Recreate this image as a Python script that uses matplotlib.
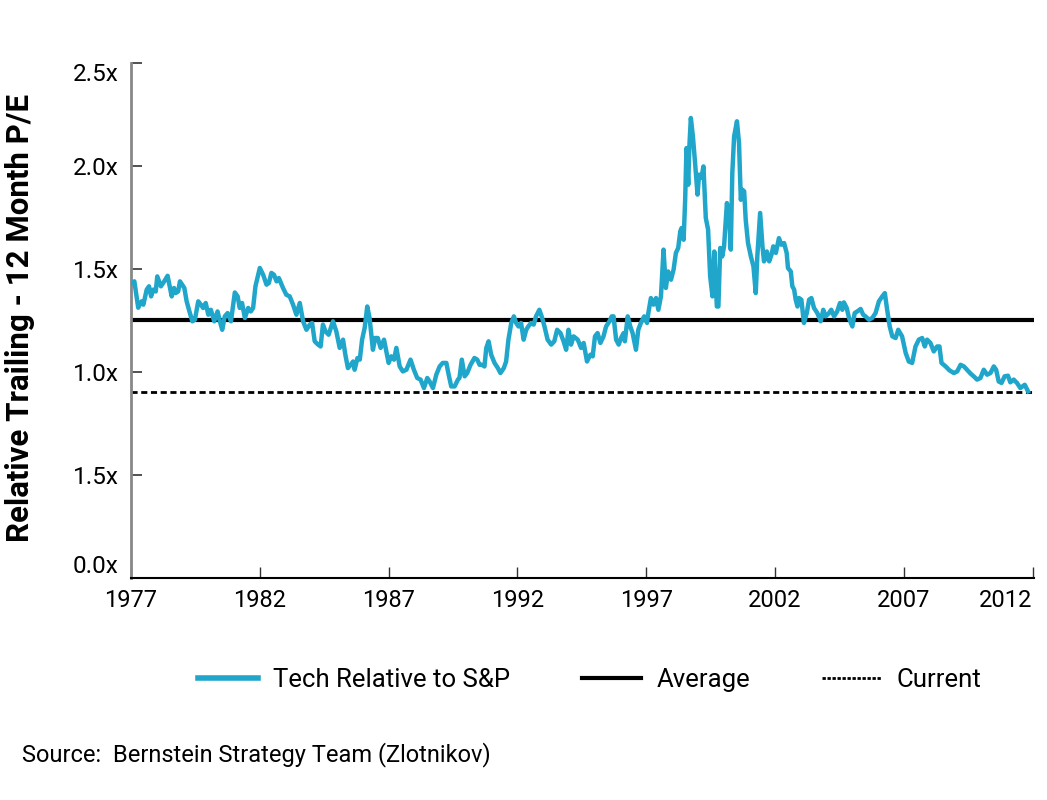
import matplotlib
matplotlib.use("Agg")
import matplotlib.pyplot as plt
from matplotlib.lines import Line2D

plt.rcParams['font.family'] = ['Roboto', 'DejaVu Sans']

years = [
 1977.04,1977.13,1977.28,1977.41,1977.48,1977.61,1977.70,1977.78,1977.86,1977.96,
 1978.02,1978.16,1978.29,1978.42,1978.58,1978.67,1978.73,1978.83,1978.90,1979.07,
 1979.16,1979.25,1979.38,1979.48,1979.61,1979.71,1979.80,1979.90,1980.00,1980.10,
 1980.23,1980.36,1980.45,1980.54,1980.64,1980.75,1980.88,1981.03,1981.14,1981.22,
 1981.31,1981.42,1981.55,1981.65,1981.74,1981.83,1982.00,1982.13,1982.26,1982.35,
 1982.45,1982.55,1982.65,1982.74,1982.90,1983.03,1983.16,1983.29,1983.42,1983.55,
 1983.68,1983.81,1983.94,1984.03,1984.13,1984.26,1984.36,1984.45,1984.55,1984.67,
 1984.84,1984.97,1985.10,1985.23,1985.32,1985.42,1985.53,1985.62,1985.68,1985.79,
 1985.88,1985.97,1986.07,1986.17,1986.26,1986.39,1986.48,1986.58,1986.69,1986.82,
 1986.91,1987.00,1987.10,1987.21,1987.30,1987.43,1987.55,1987.69,1987.85,1987.98,
 1988.11,1988.24,1988.37,1988.50,1988.59,1988.72,1988.85,1988.98,1989.10,1989.24,
 1989.33,1989.43,1989.56,1989.69,1989.75,1989.84,1989.95,1990.05,1990.18,1990.33,
 1990.44,1990.53,1990.62,1990.72,1990.79,1990.88,1990.98,1991.11,1991.24,1991.34,
 1991.47,1991.56,1991.65,1991.76,1991.86,1991.95,1992.04,1992.14,1992.24,1992.34,
 1992.42,1992.53,1992.63,1992.72,1992.85,1992.94,1993.05,1993.17,1993.31,1993.43,
 1993.54,1993.67,1993.79,1993.89,1993.98,1994.08,1994.18,1994.34,1994.47,1994.57,
 1994.70,1994.83,1994.92,1995.01,1995.11,1995.22,1995.34,1995.44,1995.57,1995.66,
 1995.73,1995.83,1995.93,1996.02,1996.12,1996.17,1996.28,1996.38,1996.47,1996.60,
 1996.69,1996.79,1996.92,1997.03,1997.08,1997.18,1997.28,1997.38,1997.47,1997.57,
 1997.67,1997.76,1997.85,1997.96,1998.06,1998.15,1998.24,1998.32,1998.37,1998.45,
 1998.51,1998.56,1998.63,1998.67,1998.73,1998.81,1998.89,1998.99,1999.05,1999.14,
 1999.22,1999.31,1999.40,1999.48,1999.57,1999.64,1999.74,1999.80,1999.87,1999.95,
 2000.02,2000.13,2000.22,2000.28,2000.34,2000.41,2000.52,2000.60,2000.67,2000.73,
 2000.80,2000.86,2000.95,2001.06,2001.16,2001.25,2001.31,2001.42,2001.51,2001.57,
 2001.68,2001.77,2001.86,2001.93,2002.03,2002.15,2002.24,2002.35,2002.45,2002.50,
 2002.61,2002.67,2002.74,2002.80,2002.87,2002.93,2003.02,2003.12,2003.23,2003.32,
 2003.41,2003.51,2003.64,2003.77,2003.87,2003.96,2004.09,2004.18,2004.29,2004.41,
 2004.52,2004.61,2004.67,2004.78,2004.87,2005.00,2005.09,2005.19,2005.32,2005.42,
 2005.51,2005.64,2005.77,2005.90,2006.03,2006.16,2006.26,2006.35,2006.45,2006.55,
 2006.68,2006.78,2006.93,2007.07,2007.19,2007.32,2007.45,2007.58,2007.71,2007.81,
 2007.90,2008.03,2008.16,2008.29,2008.38,2008.46,2008.62,2008.77,2008.94,2009.07,
 2009.20,2009.33,2009.45,2009.59,2009.71,2009.84,2009.97,2010.10,2010.23,2010.36,
 2010.49,2010.58,2010.68,2010.79,2010.91,2011.04,2011.13,2011.26,2011.39,2011.52,
 2011.69,2011.82,
]

tech_rel_pe = [
 1.433,1.440,1.312,1.343,1.327,1.400,1.416,1.367,1.400,1.391,
 1.464,1.416,1.440,1.467,1.367,1.408,1.383,1.391,1.440,1.408,
 1.343,1.302,1.246,1.254,1.343,1.327,1.311,1.335,1.278,1.302,
 1.246,1.294,1.246,1.205,1.270,1.286,1.246,1.386,1.367,1.311,
 1.335,1.262,1.311,1.294,1.311,1.416,1.505,1.472,1.424,1.432,
 1.481,1.472,1.440,1.456,1.408,1.375,1.367,1.327,1.278,1.335,
 1.246,1.205,1.230,1.238,1.149,1.133,1.124,1.230,1.197,1.181,
 1.246,1.197,1.117,1.157,1.084,1.019,1.035,1.051,1.011,1.068,
 1.060,1.157,1.214,1.318,1.262,1.108,1.165,1.165,1.117,1.157,
 1.100,1.044,1.076,1.060,1.117,1.027,1.003,1.011,1.060,1.011,
 0.971,0.963,0.922,0.971,0.954,0.922,0.987,1.027,1.044,1.044,
 0.987,0.930,0.930,0.963,0.971,1.060,0.979,0.995,1.035,1.068,
 1.060,1.035,1.035,1.027,1.117,1.149,1.084,1.044,1.019,0.995,
 1.019,1.051,1.157,1.238,1.270,1.238,1.221,1.238,1.157,1.205,
 1.221,1.238,1.230,1.270,1.302,1.270,1.221,1.157,1.133,1.149,
 1.205,1.189,1.149,1.108,1.205,1.133,1.173,1.157,1.117,1.141,
 1.051,1.084,1.076,1.173,1.189,1.141,1.173,1.221,1.246,1.270,
 1.270,1.157,1.133,1.165,1.189,1.149,1.270,1.221,1.189,1.108,
 1.205,1.238,1.270,1.238,1.286,1.359,1.327,1.359,1.302,1.367,
 1.594,1.408,1.488,1.448,1.497,1.578,1.602,1.683,1.699,1.642,
 1.836,2.087,1.909,2.087,2.233,2.144,2.022,1.861,1.958,1.942,
 1.998,1.748,1.691,1.464,1.367,1.585,1.318,1.318,1.602,1.561,
 1.610,1.820,1.755,1.594,1.966,2.144,2.217,2.112,1.836,1.885,
 1.877,1.739,1.626,1.561,1.513,1.383,1.561,1.772,1.610,1.537,
 1.585,1.537,1.569,1.610,1.578,1.650,1.618,1.626,1.578,1.505,
 1.488,1.416,1.400,1.351,1.318,1.359,1.351,1.238,1.286,1.351,
 1.359,1.311,1.286,1.246,1.302,1.270,1.286,1.302,1.270,1.294,
 1.335,1.302,1.338,1.311,1.262,1.221,1.286,1.294,1.306,1.278,
 1.270,1.254,1.262,1.286,1.343,1.367,1.383,1.302,1.221,1.173,
 1.165,1.205,1.173,1.092,1.051,1.044,1.124,1.157,1.165,1.124,
 1.157,1.141,1.100,1.124,1.124,1.044,1.027,1.008,0.995,1.003,
 1.035,1.027,1.011,0.992,0.979,0.963,0.971,1.011,0.987,0.995,
 1.027,1.011,0.954,0.947,0.979,0.982,0.950,0.963,0.947,0.922,
 0.938,0.906,
]

average_value = 1.254
current_value = 0.905

x_ticks = [1977, 1982, 1987, 1992, 1997, 2002, 2007, 2012]
y_ticks = [0.0, 0.5, 1.0, 1.5, 2.0, 2.5]
y_tick_labels = ["0.0x", "1.5x", "1.0x", "1.5x", "2.0x", "2.5x"]

series_label = "Tech Relative to S&P"
avg_label = "Average"
cur_label = "Current"
y_title = "Relative Trailing - 12 Month P/E"
source_text = "Source:  Bernstein Strategy Team (Zlotnikov)"

BLUE = "#20A6CA"

fig = plt.figure(figsize=(10.47, 8.0), dpi=100)
ax = fig.add_axes([131/1047, 1 - 578/800, (1034-131)/1047, (578-63)/800])

ax.plot(years, tech_rel_pe, color=BLUE, lw=3.2, solid_joinstyle='round', zorder=3)
ax.axhline(average_value, color='black', lw=3.0, zorder=2)
ax.axhline(current_value, color='black', lw=2.0, ls=(0, (2.2, 1.3)), zorder=2)

ax.set_xlim(1977, 2012.05)
ax.set_ylim(0, 2.5)
ax.set_xticks(x_ticks)
ax.set_xticklabels([str(t) for t in x_ticks], fontsize=17)
xl = ax.get_xticklabels()
xl[-1].set_ha('right')
ax.set_yticks(y_ticks)
ax.set_yticklabels(y_tick_labels, fontsize=17.5)
labs = ax.get_yticklabels()
labs[0].set_va('bottom')
labs[-1].set_va('top')

ax.tick_params(axis='y', direction='in', length=8, width=1.2, color='#333333', pad=9)
ax.tick_params(axis='x', direction='in', length=8, width=1.0, color='#333333', pad=8)

for s in ['top', 'right']:
    ax.spines[s].set_visible(False)
ax.spines['left'].set_color('#888888')
ax.spines['left'].set_linewidth(2.0)
ax.spines['bottom'].set_color('black')
ax.spines['bottom'].set_linewidth(1.5)

fig.text(20/1047, 1 - 318/800, y_title, rotation=90, fontsize=22.5, fontweight='bold',
         ha='center', va='center')

handles = [
    Line2D([], [], color=BLUE, lw=4),
    Line2D([], [], color='black', lw=3),
    Line2D([], [], color='black', lw=2, ls=(0, (1.2, 0.6))),
]
fig.legend(handles, [series_label, avg_label, cur_label], loc='center',
           bbox_to_anchor=(590/1047, 1 - 680/800), ncol=3, frameon=False,
           fontsize=18.5, handlelength=2.3, columnspacing=2.8, handletextpad=0.6)

fig.text(22/1047, 1 - 755/800, source_text, fontsize=17, ha='left', va='center')

fig.savefig("out.png", dpi=100)
